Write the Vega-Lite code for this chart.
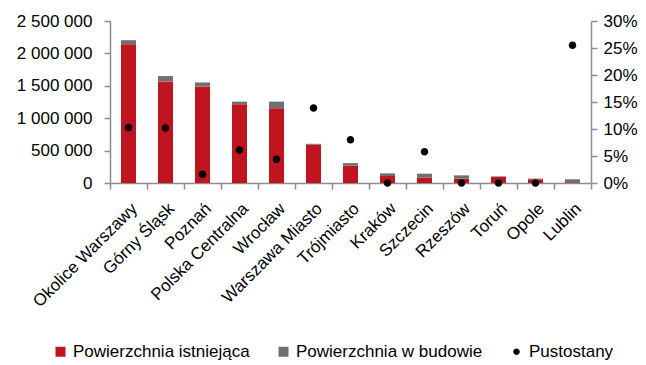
{
  "$schema": "https://vega.github.io/schema/vega-lite/v6.json",
  "width": 481,
  "height": 162,
  "autosize": {"type": "none"},
  "padding": {"left": 110, "top": 21, "right": 55, "bottom": 182},
  "config": {
    "font": "Liberation Sans",
    "view": {"stroke": null},
    "axis": {
      "grid": false,
      "domainColor": "#8c8c8c",
      "tickColor": "#8c8c8c",
      "domainWidth": 1.5,
      "tickWidth": 1.5,
      "tickSize": 6,
      "labelFont": "Liberation Sans",
      "labelFontSize": 17,
      "labelColor": "#000000",
      "title": null
    },
    "legend": {
      "labelFont": "Liberation Sans",
      "labelFontSize": 17,
      "labelColor": "#000000",
      "labelLimit": 400
    }
  },
  "datasets": {
    "bars": [
      {"city": "Okolice Warszawy", "series": "Powierzchnia istniejąca", "value": 2142000},
      {"city": "Okolice Warszawy", "series": "Powierzchnia w budowie", "value": 62000},
      {"city": "Górny Śląsk", "series": "Powierzchnia istniejąca", "value": 1568000},
      {"city": "Górny Śląsk", "series": "Powierzchnia w budowie", "value": 82000},
      {"city": "Poznań", "series": "Powierzchnia istniejąca", "value": 1491000},
      {"city": "Poznań", "series": "Powierzchnia w budowie", "value": 61000},
      {"city": "Polska Centralna", "series": "Powierzchnia istniejąca", "value": 1214000},
      {"city": "Polska Centralna", "series": "Powierzchnia w budowie", "value": 42000},
      {"city": "Wrocław", "series": "Powierzchnia istniejąca", "value": 1153000},
      {"city": "Wrocław", "series": "Powierzchnia w budowie", "value": 103000},
      {"city": "Warszawa Miasto", "series": "Powierzchnia istniejąca", "value": 590000},
      {"city": "Warszawa Miasto", "series": "Powierzchnia w budowie", "value": 15000},
      {"city": "Trójmiasto", "series": "Powierzchnia istniejąca", "value": 267000},
      {"city": "Trójmiasto", "series": "Powierzchnia w budowie", "value": 40000},
      {"city": "Kraków", "series": "Powierzchnia istniejąca", "value": 108000},
      {"city": "Kraków", "series": "Powierzchnia w budowie", "value": 41000},
      {"city": "Szczecin", "series": "Powierzchnia istniejąca", "value": 83000},
      {"city": "Szczecin", "series": "Powierzchnia w budowie", "value": 61000},
      {"city": "Rzeszów", "series": "Powierzchnia istniejąca", "value": 68000},
      {"city": "Rzeszów", "series": "Powierzchnia w budowie", "value": 50000},
      {"city": "Toruń", "series": "Powierzchnia istniejąca", "value": 95000},
      {"city": "Toruń", "series": "Powierzchnia w budowie", "value": 8000},
      {"city": "Opole", "series": "Powierzchnia istniejąca", "value": 57000},
      {"city": "Opole", "series": "Powierzchnia w budowie", "value": 11000},
      {"city": "Lublin", "series": "Powierzchnia istniejąca", "value": 12000},
      {"city": "Lublin", "series": "Powierzchnia w budowie", "value": 45000}
    ],
    "vac": [
      {"city": "Okolice Warszawy", "series": "Pustostany", "vacancy": 0.103},
      {"city": "Górny Śląsk", "series": "Pustostany", "vacancy": 0.102},
      {"city": "Poznań", "series": "Pustostany", "vacancy": 0.016},
      {"city": "Polska Centralna", "series": "Pustostany", "vacancy": 0.061},
      {"city": "Wrocław", "series": "Pustostany", "vacancy": 0.044},
      {"city": "Warszawa Miasto", "series": "Pustostany", "vacancy": 0.139},
      {"city": "Trójmiasto", "series": "Pustostany", "vacancy": 0.080},
      {"city": "Kraków", "series": "Pustostany", "vacancy": 0.0},
      {"city": "Szczecin", "series": "Pustostany", "vacancy": 0.058},
      {"city": "Rzeszów", "series": "Pustostany", "vacancy": 0.0},
      {"city": "Toruń", "series": "Pustostany", "vacancy": 0.0},
      {"city": "Opole", "series": "Pustostany", "vacancy": 0.0},
      {"city": "Lublin", "series": "Pustostany", "vacancy": 0.255}
    ]
  },
  "layer": [
    {
      "data": {"name": "bars"},
      "mark": {"type": "bar", "width": 15},
      "encoding": {
        "x": {
          "field": "city", "type": "nominal", "sort": null,
          "scale": {"paddingInner": 0, "paddingOuter": 0},
          "axis": {"tickBand": "extent", "labelAngle": -45, "labelPadding": 11, "labelAlign": "right", "labelBaseline": "top"}
        },
        "y": {
          "field": "value", "type": "quantitative", "stack": "zero",
          "scale": {"domain": [0, 2500000]},
          "axis": {"values": [0, 500000, 1000000, 1500000, 2000000, 2500000], "labelExpr": "replace(format(datum.value, ',d'), /,/g, ' ')", "labelPadding": 12}
        },
        "order": {"field": "series", "type": "nominal", "sort": "ascending"},
        "color": {
          "field": "series", "type": "nominal",
          "scale": {"domain": ["Powierzchnia istniejąca", "Powierzchnia w budowie", "Pustostany"], "range": ["#c0141e", "#707070", "#000000"]},
          "legend": {"orient": "none", "direction": "horizontal", "legendX": -58, "legendY": 322, "title": null, "symbolSize": 100, "symbolStrokeWidth": 0, "labelOffset": 4, "columnPadding": 25, "labelLimit": 400}
        }
      }
    },
    {
      "data": {"name": "vac"},
      "mark": {"type": "point", "filled": true, "opacity": 1, "size": 133},
      "encoding": {
        "x": {"field": "city", "type": "nominal", "sort": null},
        "y": {
          "field": "vacancy", "type": "quantitative",
          "scale": {"domain": [0, 0.3]},
          "axis": {"orient": "right", "values": [0, 0.05, 0.1, 0.15, 0.2, 0.25, 0.3], "format": ".0%", "labelPadding": 6}
        },
        "color": {
          "field": "series", "type": "nominal",
          "scale": {"domain": ["Powierzchnia istniejąca", "Powierzchnia w budowie", "Pustostany"], "range": ["#c0141e", "#707070", "#000000"]},
          "legend": {"orient": "none", "direction": "horizontal", "legendX": -58, "legendY": 322, "title": null, "symbolSize": 100, "symbolStrokeWidth": 0, "labelOffset": 4, "columnPadding": 25, "labelLimit": 400}
        },
        "shape": {
          "field": "series", "type": "nominal",
          "scale": {"domain": ["Powierzchnia istniejąca", "Powierzchnia w budowie", "Pustostany"], "range": ["square", "square", "M-0.65,0A0.65,0.65,0,1,0,0.65,0A0.65,0.65,0,1,0,-0.65,0Z"]},
          "legend": {"orient": "none", "direction": "horizontal", "legendX": -58, "legendY": 322, "title": null, "symbolSize": 100, "symbolStrokeWidth": 0, "labelOffset": 4, "columnPadding": 25, "labelLimit": 400}
        }
      }
    }
  ],
  "resolve": {"scale": {"y": "independent"}}
}
